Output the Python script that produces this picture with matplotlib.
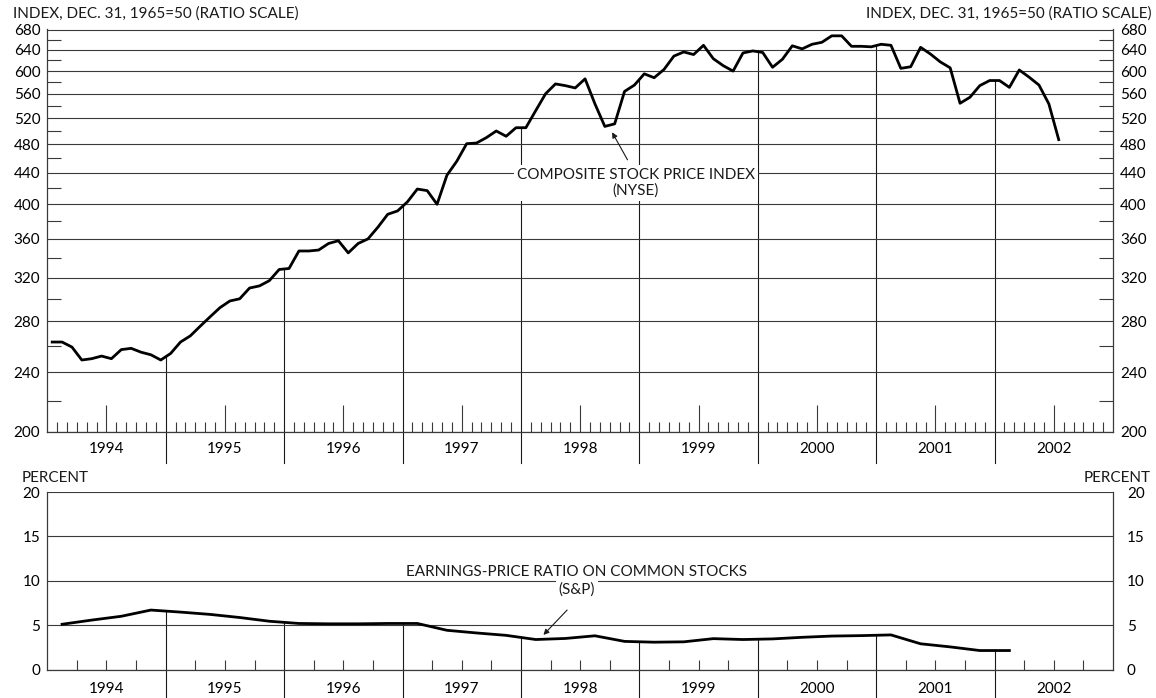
import matplotlib
matplotlib.use('Agg')
import matplotlib.pyplot as plt
import numpy as np
from matplotlib.ticker import FixedLocator, FixedFormatter, NullFormatter

YEARS = list(range(1994, 2003))

# NYSE composite stock price index, monthly (Jan 1994 - Jul 2002)
nyse_1994 = [263, 263, 259, 249, 250, 252, 250, 257, 258, 255, 253, 249]
nyse_1995 = [254, 263, 268, 276, 284, 292, 298, 300, 310, 312, 317, 328]
nyse_1996 = [329, 347, 347, 348, 355, 358, 345, 355, 360, 373, 388, 392]
nyse_1997 = [403, 419, 417, 400, 437, 456, 481, 482, 490, 500, 492, 505]
nyse_1998 = [505, 532, 560, 577, 574, 570, 586, 543, 507, 511, 564, 575]
nyse_1999 = [595, 588, 603, 628, 636, 631, 649, 623, 610, 600, 634, 638]
nyse_2000 = [635, 607, 622, 648, 642, 651, 655, 668, 668, 647, 647, 646]
nyse_2001 = [651, 649, 605, 608, 645, 632, 617, 606, 544, 554, 574, 583]
nyse_2002 = [583, 571, 602, 589, 575, 543, 487]

# earnings-price ratio (S&P), quarterly, percent
ep_1994 = [5.1, 5.57, 6.0, 6.7]
ep_1995 = [6.47, 6.21, 5.86, 5.44]
ep_1996 = [5.19, 5.15, 5.15, 5.19]
ep_1997 = [5.19, 4.42, 4.12, 3.85]
ep_1998 = [3.38, 3.5, 3.8, 3.17]
ep_1999 = [3.08, 3.12, 3.48, 3.38]
ep_2000 = [3.45, 3.63, 3.77, 3.82]
ep_2001 = [3.9, 2.9, 2.55, 2.14]
ep_2002 = [2.14]

price_ticks = [200, 240, 280, 320, 360, 400, 440, 480, 520, 560, 600, 640, 680]
percent_ticks = [0, 5, 10, 15, 20]

INK = '#1a1a1a'
GRID = '#3a3a3a'
FS = 11


def year_axis(ax, minor_pos, minor_len, mid_len, pad):
    ax.set_xlim(YEARS[0], YEARS[-1] + 1)
    ax.set_xticks([y + 0.5 for y in YEARS])
    ax.set_xticklabels([str(y) for y in YEARS])
    ax.xaxis.set_minor_locator(FixedLocator(minor_pos))
    ax.tick_params(axis='x', which='major', direction='in', length=mid_len,
                   width=0.8, color=GRID, pad=pad, labelsize=FS)
    ax.tick_params(axis='x', which='minor', direction='in', length=minor_len,
                   width=0.8, color=GRID)
    ax.spines['top'].set_visible(False)
    for s in ('left', 'right', 'bottom'):
        ax.spines[s].set_linewidth(0.9)
        ax.spines[s].set_color(GRID)


def year_lines(ax, xs, ys, low, log=False):
    # vertical lines at each year boundary, from the curve down below the axis
    for yr in YEARS[1:]:
        if log:
            top = np.exp(np.interp(yr, xs, np.log(ys)))
        else:
            top = np.interp(yr, xs, ys)
        ax.plot([yr, yr], [low, top], color=INK, lw=0.8, clip_on=False, zorder=1)


def main():
    plt.rcParams['font.family'] = ['Lato', 'DejaVu Sans']

    nyse = np.array(nyse_1994 + nyse_1995 + nyse_1996 + nyse_1997 + nyse_1998
                    + nyse_1999 + nyse_2000 + nyse_2001 + nyse_2002, dtype=float)
    ep = np.array(ep_1994 + ep_1995 + ep_1996 + ep_1997 + ep_1998 + ep_1999
                  + ep_2000 + ep_2001 + ep_2002)
    nyse_x = YEARS[0] + (np.arange(len(nyse)) + 0.5) / 12
    ep_x = YEARS[0] + (np.arange(len(ep)) + 0.5) / 4

    fig = plt.figure(figsize=(11.56, 6.98), dpi=100)
    ax1 = fig.add_axes([0.0409, 0.3811, 0.9219, 0.5769])
    ax2 = fig.add_axes([0.0409, 0.0408, 0.9219, 0.2543])

    # ---- top panel: stock price index (ratio scale)
    ax1.set_yscale('log')
    lo, hi = price_ticks[0], price_ticks[-1]
    ax1.set_ylim(lo, hi * 1.002)
    ax1.yaxis.set_major_locator(FixedLocator(price_ticks))
    ax1.yaxis.set_major_formatter(FixedFormatter([str(t) for t in price_ticks]))
    mids = [(a + b) / 2 for a, b in zip(price_ticks[:-1], price_ticks[1:])]
    ax1.yaxis.set_minor_locator(FixedLocator(mids))
    ax1.yaxis.set_minor_formatter(NullFormatter())
    ax1.tick_params(axis='y', which='major', length=0, labelsize=FS, pad=5,
                    left=True, right=True, labelleft=True, labelright=True)
    ax1.tick_params(axis='y', which='minor', direction='in', length=10,
                    width=0.8, color=GRID, left=True, right=True)
    ax1.yaxis.grid(True, which='major', color=GRID, lw=0.8)

    month_pos = [y + m / 12 for y in YEARS for m in range(1, 12) if m != 6]
    year_axis(ax1, month_pos, 7, 19.5, 7.5)
    ax1.plot(nyse_x, nyse, color='black', lw=2.0, zorder=3)
    low1 = lo / (hi / lo) ** (31 / 403)
    year_lines(ax1, nyse_x, nyse, low1, log=True)

    ax1.text(1998.97, 427, 'COMPOSITE STOCK PRICE INDEX\n(NYSE)', ha='center',
             va='center', fontsize=FS, linespacing=1.2, zorder=4, color=INK,
             bbox=dict(facecolor='white', edgecolor='none', pad=2))
    ax1.annotate('', xy=(1998.77, 498), xytext=(1998.90, 458),
                 arrowprops=dict(arrowstyle='-|>', color=INK, lw=0.8,
                                 mutation_scale=8, shrinkA=0, shrinkB=0),
                 zorder=5)

    # ---- bottom panel: earnings-price ratio
    ax2.set_ylim(percent_ticks[0], percent_ticks[-1])
    ax2.set_yticks(percent_ticks)
    ax2.set_yticklabels([str(t) for t in percent_ticks])
    ax2.tick_params(axis='y', which='major', length=0, labelsize=FS, pad=5)
    ax2.yaxis.grid(True, color=GRID, lw=0.8)
    quarter_pos = [y + q / 4 for y in YEARS for q in (1, 3)]
    year_axis(ax2, quarter_pos, 7, 7, 9)
    ax2.plot(ep_x, ep, color='black', lw=2.0, zorder=3)
    year_lines(ax2, ep_x, ep, -20 * 28.5 / 177.5)

    # right-hand percent labels sit a bit further out
    ax2r = ax2.twinx()
    ax2r.set_ylim(ax2.get_ylim())
    ax2r.set_yticks(percent_ticks)
    ax2r.set_yticklabels([str(t) for t in percent_ticks])
    ax2r.tick_params(axis='y', length=0, labelsize=FS, pad=10)
    for s in ax2r.spines.values():
        s.set_visible(False)

    ax2.text(1998.47, 11.0, 'EARNINGS-PRICE RATIO ON COMMON STOCKS', ha='center',
             va='center', fontsize=FS, color=INK, zorder=4)
    ax2.text(1998.47, 9.0, '(S&P)', ha='center', va='center', fontsize=FS,
             color=INK, zorder=4,
             bbox=dict(facecolor='white', edgecolor='none', pad=2))
    ax2.annotate('', xy=(1998.19, 3.9), xytext=(1998.39, 6.7),
                 arrowprops=dict(arrowstyle='-|>', color=INK, lw=0.8,
                                 mutation_scale=8, shrinkA=0, shrinkB=0),
                 zorder=5)

    fig.text(0.011, 0.981, 'INDEX, DEC. 31, 1965=50 (RATIO SCALE)', ha='left',
             va='center', fontsize=FS, color=INK)
    fig.text(0.996, 0.981, 'INDEX, DEC. 31, 1965=50 (RATIO SCALE)', ha='right',
             va='center', fontsize=FS, color=INK)
    fig.text(0.019, 0.315, 'PERCENT', ha='left', va='center', fontsize=FS, color=INK)
    fig.text(0.995, 0.315, 'PERCENT', ha='right', va='center', fontsize=FS, color=INK)

    fig.savefig('out.png', dpi=100, facecolor='white')


if __name__ == '__main__':
    main()
